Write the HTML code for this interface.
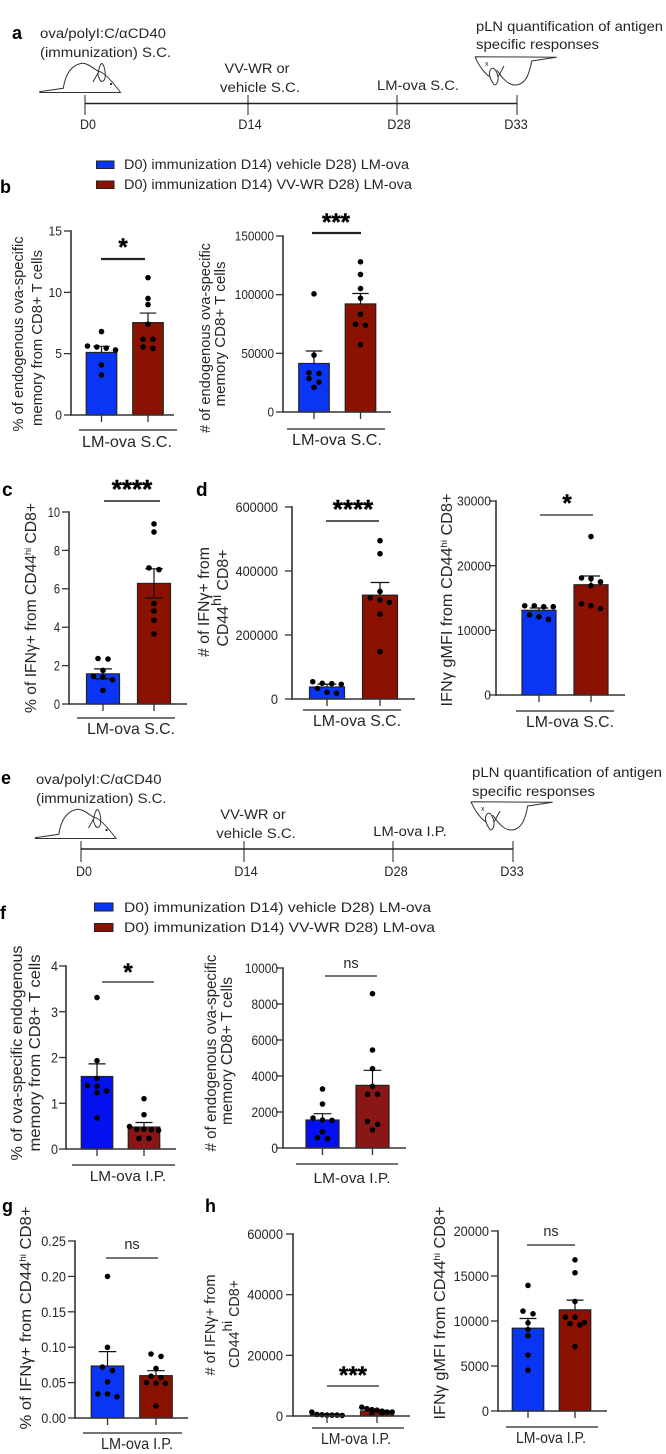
<!DOCTYPE html>
<html lang="en">
<head>
<meta charset="utf-8">
<title>Immunization timeline and bar charts</title>
<style>
html,body{margin:0;padding:0;background:#fff;width:666px;height:1454px;overflow:hidden}
svg{display:block;filter:blur(0.35px)}
text{font-family:"Liberation Sans",Arial,sans-serif;fill:#262626}
.t{font-size:14.2px}
.d{font-size:14px}
.g{font-size:16px}
.g2{font-size:15px}
.g3{font-size:15.5px}
.y{font-size:14.6px}
.y2{font-size:15.5px}
.p{font-size:18px;font-weight:bold;fill:#000}
.s{font-weight:bold;fill:#000;stroke:#000;stroke-width:.4;text-anchor:middle}
.ns{font-size:14.5px;text-anchor:middle}
.m{fill:none;stroke:#333;stroke-width:1}
.l{stroke:#222;fill:none}
</style>
</head>
<body>
<svg id="figure" xmlns="http://www.w3.org/2000/svg" width="666" height="1454" viewBox="0 0 666 1454">
<rect width="666" height="1454" fill="#fff"/>

<!-- PANEL A -->
<text class="p" x="12" y="39">a</text>
<text class="t" x="40" y="38" textLength="126" lengthAdjust="spacingAndGlyphs">ova/polyI:C/αCD40</text>
<text class="t" x="40" y="57" textLength="131" lengthAdjust="spacingAndGlyphs">(immunization) S.C.</text>
<g>
<path class="m" d="M39.3,91.7 L63.3,88.3 C64.5,80 68,66 81.7,63.3 C90,63 96,72 101,72 C108,76 115,85 120.5,92.5 L39.3,92.5"/>
<path class="m" d="M93,82 L98,73 M98,74 C99,67 101,63 102,63.5 C104,65 106,72 105,78 C104,82 101,82 100,80 C99,78 98,76 98,74"/>
<circle cx="111" cy="84" r="1.1" fill="#222"/>
</g>
<text class="t" x="257" y="73" text-anchor="middle" textLength="65" lengthAdjust="spacingAndGlyphs">VV-WR or</text>
<text class="t" x="260" y="92" text-anchor="middle" textLength="80" lengthAdjust="spacingAndGlyphs">vehicle S.C.</text>
<text class="t" x="418" y="90" text-anchor="middle" textLength="82" lengthAdjust="spacingAndGlyphs">LM-ova S.C.</text>
<text class="t" x="476" y="31" textLength="187" lengthAdjust="spacingAndGlyphs">pLN quantification of antigen</text>
<text class="t" x="476" y="49" textLength="123" lengthAdjust="spacingAndGlyphs">specific responses</text>
<g>
<path class="m" d="M475,56.7 L556.7,57.3 L531.7,61 C530,70 527,85 515,85 C507,85 501,76 496.7,70 M475,56.7 C479,66 485,74 490,77"/>
<path class="m" d="M494,84.5 C490,79 488,73 491,69 C494,66 497,72 498,77 C498.5,82 496,86 494,84.5 M498,77 L504,66"/>
<text x="485" y="66" style="font-size:7px">x</text>
</g>
<g>
<line class="l" x1="85" y1="103.5" x2="517" y2="103.5" stroke-width="1.4"/>
<line class="l" x1="85" y1="95" x2="85" y2="115" stroke-width="1"/>
<line class="l" x1="248" y1="95" x2="248" y2="115" stroke-width="1"/>
<line class="l" x1="397" y1="95" x2="397" y2="115" stroke-width="1"/>
<line class="l" x1="517" y1="95" x2="517" y2="115" stroke-width="1"/>
</g>
<text class="d" x="88" y="129" text-anchor="middle" textLength="16" lengthAdjust="spacingAndGlyphs">D0</text>
<text class="d" x="250" y="129" text-anchor="middle" textLength="23.5" lengthAdjust="spacingAndGlyphs">D14</text>
<text class="d" x="399" y="129" text-anchor="middle" textLength="23.5" lengthAdjust="spacingAndGlyphs">D28</text>
<text class="d" x="516" y="129" text-anchor="middle" textLength="23.5" lengthAdjust="spacingAndGlyphs">D33</text>

<rect x="96.5" y="161" width="17.5" height="7.5" fill="#0a35f5" stroke="#222"/>
<text class="t" x="124" y="169" textLength="285" lengthAdjust="spacingAndGlyphs">D0) immunization D14) vehicle D28) LM-ova</text>
<rect x="96.5" y="181" width="17.5" height="7.5" fill="#8b1200" stroke="#222"/>
<text class="t" x="124" y="189" textLength="288" lengthAdjust="spacingAndGlyphs">D0) immunization D14) VV-WR D28) LM-ova</text>
<text class="p" x="0" y="193">b</text>

<!-- PANEL B titles -->
<text class="y" transform="translate(23,334) rotate(-90)" text-anchor="middle" textLength="195" lengthAdjust="spacingAndGlyphs">% of endogenous ova-specific</text>
<text class="y" transform="translate(42,338) rotate(-90)" text-anchor="middle" textLength="176" lengthAdjust="spacingAndGlyphs">memory  from CD8+ T cells</text>
<line class="l" x1="101" y1="259" x2="145" y2="259" stroke-width="2.2"/>
<text class="s" x="123" y="255" style="font-size:24px">*</text>
<line class="l" x1="79" y1="430" x2="177" y2="430" stroke-width="1.3"/>
<text class="g" x="127" y="447" text-anchor="middle" textLength="90" lengthAdjust="spacingAndGlyphs">LM-ova S.C.</text>

<text class="y" transform="translate(210,338) rotate(-90)" text-anchor="middle" textLength="190" lengthAdjust="spacingAndGlyphs"># of endogenous ova-specific</text>
<text class="y" transform="translate(225,334) rotate(-90)" text-anchor="middle" textLength="145" lengthAdjust="spacingAndGlyphs">memory CD8+  T cells</text>
<line class="l" x1="312" y1="233" x2="361" y2="233" stroke-width="2.2"/>
<text class="s" x="336" y="230" style="font-size:24px">***</text>
<line class="l" x1="287" y1="429" x2="385" y2="429" stroke-width="1.3"/>
<text class="g" x="337" y="445" text-anchor="middle" textLength="90" lengthAdjust="spacingAndGlyphs">LM-ova S.C.</text>

<!-- PANEL C -->
<text class="p" x="2" y="496" style="font-size:19px">c</text>
<text class="y2" transform="translate(36,608) rotate(-90)" text-anchor="middle" textLength="210" lengthAdjust="spacingAndGlyphs">% of IFNγ+ from CD44<tspan dy="-5" style="font-size:9px">hi</tspan><tspan dy="5"> CD8+</tspan></text>
<line class="l" x1="104" y1="501" x2="160" y2="501" stroke-width="1.6"/>
<text class="s" x="132" y="498" style="font-size:26px">****</text>
<line class="l" x1="77" y1="718" x2="175" y2="718" stroke-width="1.3"/>
<text class="g" x="131" y="734" text-anchor="middle" textLength="88" lengthAdjust="spacingAndGlyphs">LM-ova S.C.</text>

<!-- PANEL D -->
<text class="p" x="196" y="496" style="font-size:19px">d</text>
<text class="y2" transform="translate(209,602) rotate(-90)" text-anchor="middle" textLength="110" lengthAdjust="spacingAndGlyphs"># of IFNγ+ from</text>
<text class="y2" transform="translate(228,598) rotate(-90)" text-anchor="middle" textLength="97" lengthAdjust="spacingAndGlyphs">CD44<tspan dy="-7" style="font-size:14px">hi</tspan><tspan dy="7"> CD8+</tspan></text>
<line class="l" x1="326" y1="521" x2="379" y2="521" stroke-width="1.6"/>
<text class="s" x="353" y="518" style="font-size:26px">****</text>
<line class="l" x1="303" y1="710" x2="401" y2="710" stroke-width="1.3"/>
<text class="g" x="357" y="726" text-anchor="middle" textLength="88" lengthAdjust="spacingAndGlyphs">LM-ova S.C.</text>

<text class="y2" transform="translate(452,600) rotate(-90)" text-anchor="middle" textLength="213" lengthAdjust="spacingAndGlyphs">IFNγ gMFI from CD44<tspan dy="-5" style="font-size:9px">hi</tspan><tspan dy="5"> CD8+</tspan></text>
<line class="l" x1="540" y1="515" x2="593" y2="515" stroke-width="1.3"/>
<text class="s" x="567" y="511" style="font-size:24px">*</text>
<line class="l" x1="516" y1="711" x2="614" y2="711" stroke-width="1.3"/>
<text class="g" x="570" y="727" text-anchor="middle" textLength="88" lengthAdjust="spacingAndGlyphs">LM-ova S.C.</text>

<!-- PANEL E -->
<text class="p" x="1" y="784">e</text>
<text class="t" x="36" y="784" textLength="125.5" lengthAdjust="spacingAndGlyphs">ova/polyI:C/αCD40</text>
<text class="t" x="36" y="803" textLength="130.5" lengthAdjust="spacingAndGlyphs">(immunization) S.C.</text>
<g transform="translate(-4.5,746)">
<path class="m" d="M39.3,91.7 L63.3,88.3 C64.5,80 68,66 81.7,63.3 C90,63 96,72 101,72 C108,76 115,85 120.5,92.5 L39.3,92.5"/>
<path class="m" d="M93,82 L98,73 M98,74 C99,67 101,63 102,63.5 C104,65 106,72 105,78 C104,82 101,82 100,80 C99,78 98,76 98,74"/>
<circle cx="111" cy="84" r="1.1" fill="#222"/>
</g>
<text class="t" x="253" y="819" text-anchor="middle" textLength="65.5" lengthAdjust="spacingAndGlyphs">VV-WR or</text>
<text class="t" x="256" y="838" text-anchor="middle" textLength="79.5" lengthAdjust="spacingAndGlyphs">vehicle S.C.</text>
<text class="t" x="410" y="836" text-anchor="middle" textLength="73.5" lengthAdjust="spacingAndGlyphs">LM-ova I.P.</text>
<text class="t" x="472" y="777" textLength="190" lengthAdjust="spacingAndGlyphs">pLN quantification of antigen</text>
<text class="t" x="472" y="796" textLength="123" lengthAdjust="spacingAndGlyphs">specific responses</text>
<g transform="translate(-4,745)">
<path class="m" d="M475,56.7 L556.7,57.3 L531.7,61 C530,70 527,85 515,85 C507,85 501,76 496.7,70 M475,56.7 C479,66 485,74 490,77"/>
<path class="m" d="M494,84.5 C490,79 488,73 491,69 C494,66 497,72 498,77 C498.5,82 496,86 494,84.5 M498,77 L504,66"/>
<text x="485" y="66" style="font-size:7px">x</text>
</g>
<g>
<line class="l" x1="81" y1="849" x2="513" y2="849" stroke-width="1.4"/>
<line class="l" x1="81" y1="841" x2="81" y2="862" stroke-width="1"/>
<line class="l" x1="244" y1="841" x2="244" y2="862" stroke-width="1"/>
<line class="l" x1="393" y1="841" x2="393" y2="862" stroke-width="1"/>
<line class="l" x1="513" y1="841" x2="513" y2="862" stroke-width="1"/>
</g>
<text class="d" x="84" y="876" text-anchor="middle" textLength="16" lengthAdjust="spacingAndGlyphs">D0</text>
<text class="d" x="246" y="876" text-anchor="middle" textLength="23.5" lengthAdjust="spacingAndGlyphs">D14</text>
<text class="d" x="396" y="876" text-anchor="middle" textLength="23.5" lengthAdjust="spacingAndGlyphs">D28</text>
<text class="d" x="512" y="876" text-anchor="middle" textLength="23.5" lengthAdjust="spacingAndGlyphs">D33</text>

<rect x="94.5" y="903" width="18.5" height="8" fill="#0a35f5" stroke="#222"/>
<text class="t" x="124" y="912" textLength="307" lengthAdjust="spacingAndGlyphs">D0) immunization D14) vehicle D28) LM-ova</text>
<rect x="94.5" y="923.5" width="18.5" height="8" fill="#8b1200" stroke="#222"/>
<text class="t" x="124" y="932" textLength="311" lengthAdjust="spacingAndGlyphs">D0) immunization D14) VV-WR D28) LM-ova</text>
<text class="p" x="0" y="919">f</text>

<!-- PANEL F titles -->
<text class="y2" transform="translate(22,1053) rotate(-90)" text-anchor="middle" textLength="215" lengthAdjust="spacingAndGlyphs">% of ova-specific endogenous</text>
<text class="y2" transform="translate(40,1053) rotate(-90)" text-anchor="middle" textLength="197" lengthAdjust="spacingAndGlyphs">memory  from CD8+ T cells</text>
<line class="l" x1="102" y1="982" x2="154" y2="982" stroke-width="1.3"/>
<text class="s" x="128" y="980" style="font-size:24px">*</text>
<line class="l" x1="72" y1="1165" x2="175" y2="1165" stroke-width="1.3"/>
<text class="g2" x="128" y="1181" text-anchor="middle" textLength="76.5" lengthAdjust="spacingAndGlyphs">LM-ova I.P.</text>

<text class="y2" transform="translate(216,1053) rotate(-90)" text-anchor="middle" textLength="197" lengthAdjust="spacingAndGlyphs"># of endogenous ova-specific</text>
<text class="y2" transform="translate(232,1051) rotate(-90)" text-anchor="middle" textLength="148" lengthAdjust="spacingAndGlyphs">memory CD8+  T cells</text>
<line class="l" x1="325" y1="976" x2="377" y2="976" stroke-width="1.3"/>
<text class="ns" x="351" y="968">ns</text>
<line class="l" x1="296" y1="1164" x2="398" y2="1164" stroke-width="1.3"/>
<text class="g2" x="352" y="1183" text-anchor="middle" textLength="77" lengthAdjust="spacingAndGlyphs">LM-ova I.P.</text>

<!-- PANEL G -->
<text class="p" x="2" y="1212">g</text>
<text class="y2" transform="translate(31,1318) rotate(-90)" text-anchor="middle" textLength="223" lengthAdjust="spacingAndGlyphs">% of IFNγ+ from CD44<tspan dy="-5" style="font-size:9px">hi</tspan><tspan dy="5"> CD8+</tspan></text>
<line class="l" x1="106" y1="1258" x2="158" y2="1258" stroke-width="1.2"/>
<text class="ns" x="132" y="1249">ns</text>
<line class="l" x1="83" y1="1433" x2="182" y2="1433" stroke-width="1.3"/>
<text class="g3" x="137" y="1449" text-anchor="middle" textLength="72" lengthAdjust="spacingAndGlyphs">LM-ova I.P.</text>

<!-- PANEL H -->
<text class="p" x="205" y="1212">h</text>
<text class="y" transform="translate(215,1325) rotate(-90)" text-anchor="middle" textLength="101" lengthAdjust="spacingAndGlyphs"># of IFNγ+ from</text>
<text class="y" transform="translate(239,1324) rotate(-90)" text-anchor="middle" textLength="88" lengthAdjust="spacingAndGlyphs">CD44<tspan dy="-7" style="font-size:14px">hi</tspan><tspan dy="7">  CD8+</tspan></text>
<line class="l" x1="327" y1="1386" x2="379" y2="1386" stroke-width="1.3"/>
<text class="s" x="353" y="1383" style="font-size:24px">***</text>
<line class="l" x1="312" y1="1428" x2="404" y2="1428" stroke-width="1.3"/>
<text class="g3" x="356" y="1444" text-anchor="middle" textLength="70" lengthAdjust="spacingAndGlyphs">LM-ova I.P.</text>

<text class="y2" transform="translate(445,1313) rotate(-90)" text-anchor="middle" textLength="213" lengthAdjust="spacingAndGlyphs">IFNγ gMFI from CD44<tspan dy="-5" style="font-size:9px">hi</tspan><tspan dy="5"> CD8+</tspan></text>
<line class="l" x1="527" y1="1245" x2="575" y2="1245" stroke-width="1.2"/>
<text class="ns" x="551" y="1236">ns</text>
<line class="l" x1="506" y1="1427" x2="598" y2="1427" stroke-width="1.3"/>
<text class="g3" x="551" y="1443" text-anchor="middle" textLength="70" lengthAdjust="spacingAndGlyphs">LM-ova I.P.</text>

<g id="charts"></g>
</svg>

<script>
const categories = ["vehicle", "VV-WR"];

const b1TickLabels = ["0", "5", "10", "15"];
const b1Means = [5.1, 7.53];
const b1Errors = [0.5, 0.78];
const b1VehicleDots = [6.8, 5.62, 5.54, 5.45, 5.3, 4.08, 3.26];
const b1VvwrDots = [11.2, 9.5, 9.0, 7.4, 6.17, 6.17, 5.54, 5.43];

const b2TickLabels = ["0", "50000", "100000", "150000"];
const b2Means = [41350, 92100];
const b2Errors = [10650, 8900];
const b2VehicleDots = [100700, 48500, 33400, 32800, 28500, 25400, 21100];
const b2VvwrDots = [128000, 117200, 105200, 97000, 83300, 74700, 73900, 57300];

const cTickLabels = ["0", "2", "4", "6", "8", "10"];
const cMeans = [1.57, 6.28];
const cErrors = [0.26, 0.76];
const cVehicleDots = [2.37, 2.34, 1.75, 1.44, 1.4, 1.26, 0.71];
const cVvwrDots = [9.38, 8.96, 7.09, 7.0, 5.24, 4.84, 4.36, 3.65];

const d1TickLabels = ["0", "200000", "400000", "600000"];
const d1Means = [37500, 324500];
const d1Errors = [9000, 39500];
const d1VehicleDots = [54000, 49000, 48000, 46000, 33000, 21000, 18000];
const d1VvwrDots = [494600, 454000, 336000, 316000, 310000, 302000, 265000, 148000];

const d2TickLabels = ["0", "10000", "20000", "30000"];
const d2Means = [13100, 17050];
const d2Errors = [350, 1350];
const d2VehicleDots = [13800, 13800, 13650, 13650, 12400, 12100, 11700];
const d2VvwrDots = [24500, 18100, 18000, 17500, 16900, 14100, 13800, 13350];

const f1TickLabels = ["0", "1", "2", "3", "4"];
const f1Means = [1.585, 0.48];
const f1Errors = [0.275, 0.1];
const f1VehicleDots = [3.31, 1.93, 1.54, 1.39, 1.37, 1.27, 1.23, 0.68];
const f1VvwrDots = [1.1, 0.75, 0.49, 0.43, 0.43, 0.42, 0.41, 0.23, 0.23];

const f2TickLabels = ["0", "2000", "4000", "6000", "8000", "10000"];
const f2Means = [1555, 3480];
const f2Errors = [352, 835];
const f2VehicleDots = [3280, 2444, 1667, 1555, 1537, 907, 574, 518];
const f2VvwrDots = [8574, 5444, 4407, 3426, 2981, 2981, 1481, 1315, 1000];

const gTickLabels = ["0.00", "0.05", "0.10", "0.15", "0.20", "0.25"];
const gMeans = [0.0734, 0.0598];
const gErrors = [0.0203, 0.007];
const gVehicleDots = [0.2, 0.0998, 0.072, 0.067, 0.051, 0.034, 0.034, 0.03];
const gVvwrDots = [0.0904, 0.087, 0.07, 0.059, 0.057, 0.05, 0.049, 0.049, 0.017];

const h1TickLabels = ["0", "20000", "40000", "60000"];
const h1Means = [450, 1650];
const h1Errors = [150, 220];
const h1VehicleDots = [1300, 500, 400, 300, 300, 300, 200];
const h1VvwrDots = [2900, 2400, 2100, 1900, 1600, 1300, 1300, 800, 800];

const h2TickLabels = ["0", "5000", "10000", "15000", "20000"];
const h2Means = [9200, 11240];
const h2Errors = [1080, 1080];
const h2VehicleDots = [13950, 11100, 10800, 9800, 9050, 8350, 6200, 4530];
const h2VvwrDots = [16800, 15360, 12170, 10420, 10420, 9830, 9720, 9570, 7160];

const SVG_NS = "http://www.w3.org/2000/svg";
const chartsRoot = document.getElementById("charts");

function make(tag, parent, attrs) {
  const el = document.createElementNS(SVG_NS, tag);
  for (const key in attrs) el.setAttribute(key, attrs[key]);
  parent.appendChild(el);
  return el;
}

// Swarm: dots close in y form a row that spreads symmetrically around the bar centre.
function swarm(values, yScale, centre, barWidth) {
  const ordered = values.slice().sort(function (a, b) { return b - a; });
  const rows = [];
  ordered.forEach(function (v) {
    const y = yScale(v);
    const row = rows[rows.length - 1];
    if (row && y - row[0] < 5.6) row.push(y);
    else rows.push([y]);
  });
  const placed = [];
  rows.forEach(function (row) {
    const gap = row.length > 1 ? Math.min(row.length === 2 ? 10 : 9.5, barWidth * 0.92 / (row.length - 1)) : 0;
    row.forEach(function (y, i) {
      placed.push({ x: centre + (i - (row.length - 1) / 2) * gap, y: y });
    });
  });
  return placed;
}

function drawPanel(id, cfg) {
  const group = make("g", chartsRoot, {});
  
  

  const yMax = Number(cfg.tickLabels[cfg.tickLabels.length - 1]);
  const yScale = function (v) { return cfg.y0 - (v / yMax) * (cfg.y0 - cfg.yTop); };

  categories.forEach(function (cat, i) {
    const centre = cfg.centres[i];
    const slug = i === 0 ? "vehicle" : "vv-wr";
    const top = yScale(cfg.means[i]);
    const bar = make("rect", group, {
      x: centre - cfg.barWidth / 2, y: top,
      width: cfg.barWidth, height: cfg.y0 - top,
      fill: cfg.colors[i], stroke: "#222", "stroke-width": 1.2
    });
    
    

    const errHigh = yScale(cfg.means[i] + cfg.errors[i]);
    const errLow = yScale(cfg.means[i] - cfg.errors[i]);
    const errStart = cfg.lowerError ? errLow : top;
    const capHalf = cfg.barWidth * 0.27;
    const err = make("path", group, {
      d: "M" + centre + "," + errStart + "V" + errHigh +
         "M" + (centre - capHalf) + "," + errHigh + "H" + (centre + capHalf) +
         (cfg.lowerError ? "M" + (centre - capHalf) + "," + errLow + "H" + (centre + capHalf) : ""),
      fill: "none", stroke: "#111", "stroke-width": 1.2
    });
    
    

    const dotValues = i === 0 ? cfg.vehicleDots : cfg.vvwrDots;
    swarm(dotValues, yScale, centre, cfg.barWidth).forEach(function (p) {
      const dot = make("circle", group, { cx: p.x, cy: p.y, r: 2.8, fill: "#000" });
      
      
    });

    const tick = make("line", group, {
      x1: centre, x2: centre, y1: cfg.y0, y2: cfg.y0 + 7, stroke: "#333", "stroke-width": 1.3
    });
    
    
  });

  const yAxis = make("line", group, {
    x1: cfg.axisX, x2: cfg.axisX, y1: cfg.yTop - 0.7, y2: cfg.y0 + 0.7, stroke: "#333", "stroke-width": 1.6
  });
  
  

  const xAxis = make("line", group, {
    x1: cfg.axisX, x2: cfg.xEnd, y1: cfg.y0, y2: cfg.y0, stroke: "#333", "stroke-width": 1.6
  });
  
  

  cfg.tickLabels.forEach(function (label) {
    const y = yScale(Number(label));
    const tick = make("line", group, {
      x1: cfg.axisX - 7, x2: cfg.axisX, y1: y, y2: y, stroke: "#333", "stroke-width": 1.3
    });
    
    

    const fontSize = cfg.tickFont || 14;
    const text = make("text", group, {
      x: 0, y: 0, "text-anchor": "end",
      transform: "translate(" + cfg.labelRight + "," + (y + fontSize * 0.36) + ") scale(" + (cfg.tickSqueeze || 1) + ",1)",
      style: "font-size:" + fontSize + "px"
    });
    
    
    text.textContent = label;
  });
}

const blueRed = ["#0a35f5", "#8b1200"];
const blueRedF = ["#0510ee", "#8a1616"];

drawPanel("b1", { tickLabels: b1TickLabels, means: b1Means, errors: b1Errors, vehicleDots: b1VehicleDots, vvwrDots: b1VvwrDots,
  axisX: 71, y0: 415, yTop: 231, xEnd: 174, centres: [101.5, 148], barWidth: 30.5, labelRight: 62, colors: blueRed, tickFont: 12.5, tickSqueeze: 0.97 });
drawPanel("b2", { tickLabels: b2TickLabels, means: b2Means, errors: b2Errors, vehicleDots: b2VehicleDots, vvwrDots: b2VvwrDots,
  axisX: 283, y0: 412, yTop: 236, xEnd: 391, centres: [314, 360.5], barWidth: 30.5, labelRight: 274, colors: blueRed, tickFont: 12.5, tickSqueeze: 0.94 });
drawPanel("c", { tickLabels: cTickLabels, means: cMeans, errors: cErrors, vehicleDots: cVehicleDots, vvwrDots: cVvwrDots,
  axisX: 69, y0: 704, yTop: 512, xEnd: 187, centres: [103, 154], barWidth: 33, labelRight: 60, colors: blueRed, lowerError: true, tickFont: 13.5, tickSqueeze: 0.82 });
drawPanel("d1", { tickLabels: d1TickLabels, means: d1Means, errors: d1Errors, vehicleDots: d1VehicleDots, vvwrDots: d1VvwrDots,
  axisX: 292, y0: 699, yTop: 507, xEnd: 415, centres: [327, 380], barWidth: 35, labelRight: 278, colors: blueRed, tickSqueeze: 0.91 });
drawPanel("d2", { tickLabels: d2TickLabels, means: d2Means, errors: d2Errors, vehicleDots: d2VehicleDots, vvwrDots: d2VvwrDots,
  axisX: 496, y0: 695, yTop: 501, xEnd: 625, centres: [539, 591], barWidth: 34, labelRight: 491, colors: blueRed, tickFont: 13, tickSqueeze: 0.94 });
drawPanel("f1", { tickLabels: f1TickLabels, means: f1Means, errors: f1Errors, vehicleDots: f1VehicleDots, vvwrDots: f1VvwrDots,
  axisX: 66, y0: 1149, yTop: 966, xEnd: 176, centres: [97, 144], barWidth: 31.5, labelRight: 58, colors: blueRedF, tickSqueeze: 0.9 });
drawPanel("f2", { tickLabels: f2TickLabels, means: f2Means, errors: f2Errors, vehicleDots: f2VehicleDots, vvwrDots: f2VvwrDots,
  axisX: 283, y0: 1148, yTop: 968, xEnd: 406, centres: [322.5, 372.5], barWidth: 33, labelRight: 278, colors: blueRedF, tickSqueeze: 0.85 });
drawPanel("g", { tickLabels: gTickLabels, means: gMeans, errors: gErrors, vehicleDots: gVehicleDots, vvwrDots: gVvwrDots,
  axisX: 75, y0: 1418, yTop: 1241, xEnd: 188, centres: [107.5, 156], barWidth: 32.5, labelRight: 66, colors: blueRed, tickSqueeze: 0.91 });
drawPanel("h1", { tickLabels: h1TickLabels, means: h1Means, errors: h1Errors, vehicleDots: h1VehicleDots, vvwrDots: h1VvwrDots,
  axisX: 293, y0: 1416, yTop: 1234, xEnd: 410, centres: [327, 377], barWidth: 33, labelRight: 283, colors: blueRed, tickSqueeze: 0.92 });
drawPanel("h2", { tickLabels: h2TickLabels, means: h2Means, errors: h2Errors, vehicleDots: h2VehicleDots, vvwrDots: h2VvwrDots,
  axisX: 498, y0: 1411, yTop: 1231, xEnd: 607, centres: [528, 575], barWidth: 31.5, labelRight: 489, colors: blueRed, tickSqueeze: 0.91 });
</script>
</body>
</html>
